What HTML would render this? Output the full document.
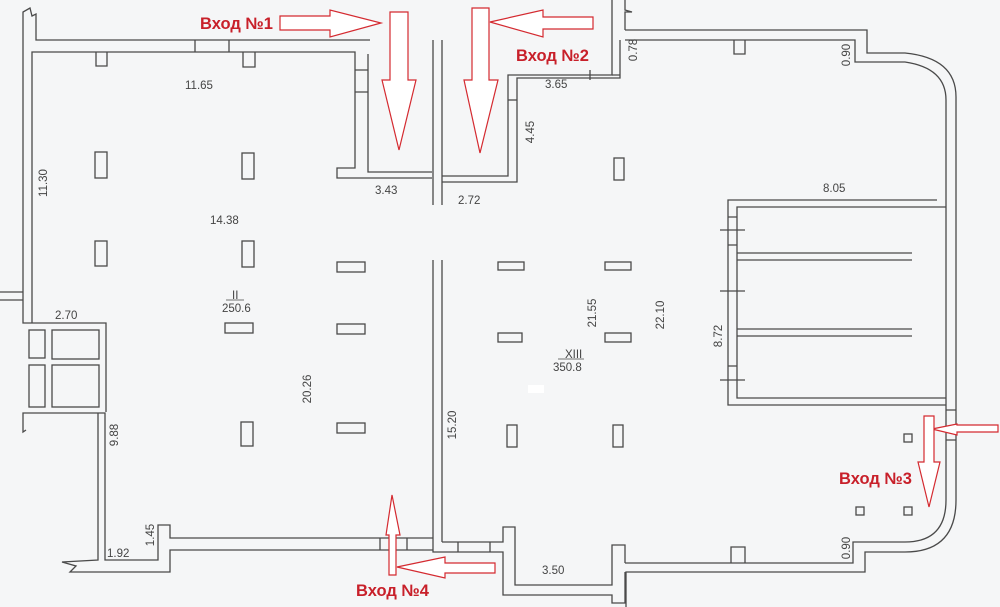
<!DOCTYPE html>
<html><head><meta charset="utf-8"><style>
html,body{margin:0;padding:0;background:#f5f6f7;}
svg{display:block}
.w{fill:none;stroke:#4a4a4a;stroke-width:1.3}
.t{font-family:"Liberation Sans",sans-serif;font-size:11.5px;fill:#444}
.r{fill:#fff;stroke:#d42a30;stroke-width:1.2}
.l{font-family:"Liberation Sans",sans-serif;font-weight:bold;font-size:16.5px;fill:#c8202a}
</style></head><body>
<svg width="1000" height="607" viewBox="0 0 1000 607" xmlns="http://www.w3.org/2000/svg">
<rect width="1000" height="607" fill="#f5f6f7"/>
<g class="w">
<path d="M23 300 L23 12 L30 8 L32 16 L36 14 L36 40 L370 40"/>
<path d="M32 300 L32 52 L355 52 L355 168 L337 168 L337 178 L432 178"/>
<path d="M368 54 L368 172 L432 172"/>
<path d="M355 70 L368 70 M355 92 L368 92"/>
<path d="M195 40 L195 52 M229 40 L229 52"/>
<path d="M96 52 L96 66 L107 66 L107 52 M243 52 L243 67 L255 67 L255 52"/>
<path d="M0 292 L23 292 M0 300 L23 300"/>
<path d="M433 40 L433 205 M442 40 L442 205 M433 260 L433 545 M442 260 L442 542"/>
<path d="M442 176 L508 176 L508 75 L612 75 L612 0 M442 182 L517 182 L517 78 L620 78 L620 40 M625 0 L625 10 L632 12 L625 12 L625 30"/>
<path d="M612 75 L620 75 M590 70 L590 80"/>
<path d="M508 100 L517 100"/>
<path d="M625 30 L867 30 L867 53 L905 53 Q956 58 956 97 L956 500"/>
<path d="M625 40 L855 40 L855 62 L905 62 Q946 68 946 100 L946 500 Q946 542 905 542 L853 542 L853 563 L625 563"/>
<path d="M956 500 Q956 552 905 552 L865 552 L865 572 L626 572 L626 607"/>
<path d="M734 40 L734 54 L745 54 L745 40"/>
<path d="M731 563 L731 547 L745 547 L745 563"/>
<path d="M946 410 L956 410 M946 440 L956 440"/>
<path d="M937 200 L728 200 L728 405 L946 405 M946 207 L737 207 L737 398 L946 398"/>
<path d="M737 253 L912 253 M737 260 L912 260 M737 329 L912 329 M737 336 L912 336"/>
<path d="M720 230 L745 230 M720 291 L745 291 M720 380 L745 380 M728 217 L737 217 M728 245 L737 245 M728 366 L737 366"/>
<path d="M442 542 L503 542 L503 527 L515 527 L515 585 L612 585 L612 545 L625 545 L625 563"/>
<path d="M433 545 L433 552 L503 552 L503 595 L612 595 L612 603 L625 603 L625 572"/>
<path d="M458 542 L458 552 M490 542 L490 552"/>
<path d="M433 538 L170 538 L170 525 L158 525 L158 560 L105 560 L105 413 L23 413 L23 432 L26 430"/>
<path d="M433 550 L170 550 L170 572 L70 572 L76 566 L62 562 L98 560 L98 413"/>
<path d="M380 538 L380 550 M407 538 L407 550"/>
<path d="M23 300 L23 323 L106 323 L106 412 M32 300 L32 323"/>
<rect x="29" y="330" width="16" height="28"/><rect x="52" y="330" width="47" height="29"/>
<rect x="29" y="365" width="16" height="42"/><rect x="52" y="365" width="47" height="42"/>
<rect x="95" y="152" width="12" height="26"/><rect x="242" y="153" width="12" height="26"/>
<rect x="95" y="241" width="12" height="25"/><rect x="242" y="241" width="12" height="26"/>
<rect x="337" y="262" width="28" height="10"/><rect x="225" y="323" width="28" height="10"/>
<rect x="337" y="324" width="28" height="10"/><rect x="241" y="422" width="12" height="24"/>
<rect x="337" y="423" width="28" height="10"/>
<rect x="498" y="262" width="26" height="8"/><rect x="605" y="262" width="26" height="8"/>
<rect x="614" y="158" width="10" height="22"/>
<rect x="498" y="333" width="24" height="9"/><rect x="605" y="333" width="26" height="9"/>
<rect x="507" y="425" width="10" height="22"/><rect x="613" y="425" width="10" height="22"/>
<rect x="904" y="434" width="8" height="8"/><rect x="856" y="507" width="8" height="8"/><rect x="904" y="507" width="8" height="8"/>
</g>
<rect x="528" y="385" width="16" height="8" fill="#fff"/>
<g class="t">
<text x="185" y="89">11.65</text>
<text x="210" y="224">14.38</text>
<text x="232" y="299">II</text>
<line x1="226" y1="300" x2="244" y2="300" stroke="#444" stroke-width="0.8"/>
<text x="222" y="312">250.6</text>
<text x="55" y="319">2.70</text>
<text x="107" y="557">1.92</text>
<text x="375" y="194">3.43</text>
<text x="458" y="204">2.72</text>
<text x="545" y="88">3.65</text>
<text x="823" y="192">8.05</text>
<text x="565" y="358">XIII</text>
<line x1="558" y1="359" x2="584" y2="359" stroke="#444" stroke-width="0.8"/>
<text x="553" y="371">350.8</text>
<text x="542" y="574">3.50</text>
<text transform="translate(47,183) rotate(-90)" text-anchor="middle">11.30</text>
<text transform="translate(118,435) rotate(-90)" text-anchor="middle">9.88</text>
<text transform="translate(154,535) rotate(-90)" text-anchor="middle">1.45</text>
<text transform="translate(311,389) rotate(-90)" text-anchor="middle">20.26</text>
<text transform="translate(456,425) rotate(-90)" text-anchor="middle">15.20</text>
<text transform="translate(534,132) rotate(-90)" text-anchor="middle">4.45</text>
<text transform="translate(637,50) rotate(-90)" text-anchor="middle">0.78</text>
<text transform="translate(850,55) rotate(-90)" text-anchor="middle">0.90</text>
<text transform="translate(596,313) rotate(-90)" text-anchor="middle">21.55</text>
<text transform="translate(664,315) rotate(-90)" text-anchor="middle">22.10</text>
<text transform="translate(722,336) rotate(-90)" text-anchor="middle">8.72</text>
<text transform="translate(850,548) rotate(-90)" text-anchor="middle">0.90</text>
</g>
<polygon class="r" points="280,16 330,16 330,10 381,23 330,37 330,30 280,30"/>
<polygon class="r" points="390,12 408,12 408,80 416,80 399,150 382,80 390,80"/>
<polygon class="r" points="472,8 489,8 489,80 498,80 480,153 464,80 472,80"/>
<polygon class="r" points="593,17 543,17 543,10 490,22 543,37 543,29 593,29"/>
<polygon class="r" points="389,575 396,575 396,535 400,535 392,495 386,535 389,535"/>
<polygon class="r" points="495,563 445,563 445,557 397,567 445,578 445,573 495,573"/>
<polygon class="r" points="998,425 957,425 957,424 932,429 957,435 957,432 998,432"/>
<polygon class="r" points="924,416 934,416 934,462 940,462 929,507 918,462 924,462"/>
<text class="l" x="200" y="29">Вход №1</text>
<text class="l" x="516" y="61">Вход №2</text>
<text class="l" x="839" y="484">Вход №3</text>
<text class="l" x="356" y="596">Вход №4</text>
</svg>
</body></html>
